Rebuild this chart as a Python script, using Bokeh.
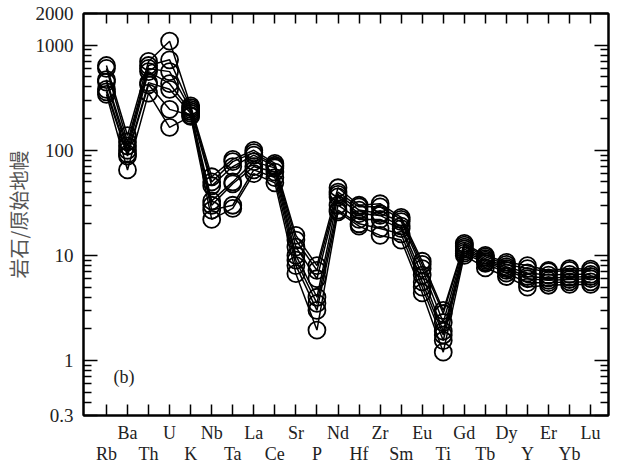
from bokeh.plotting import figure
from bokeh.models import (Range1d, LinearAxis, LogAxis, FixedTicker, Label,
                          ColumnDataSource, CustomLabelingPolicy)
from bokeh.embed import file_html
from bokeh.resources import INLINE

elements = ["Rb", "Ba", "Th", "U", "K", "Nb", "Ta", "La", "Ce", "Sr", "P", "Nd",
            "Hf", "Zr", "Sm", "Eu", "Ti", "Gd", "Tb", "Dy", "Y", "Er", "Yb", "Lu"]

s1 = [640, 138, 700, 1090, 265, 56, 82, 100, 75, 15.5, 8.0, 44, 30, 31, 23, 8.8, 3.0, 13.0, 10.0, 8.6, 8.0, 7.2, 7.5, 7.4]
s2 = [600, 120, 640, 725, 255, 50, 78, 95, 72, 14.0, 7.2, 40, 29, 29, 22, 8.2, 2.8, 12.5, 9.7, 8.2, 7.5, 7.0, 7.2, 7.1]
s3 = [470, 110, 600, 560, 245, 46, 70, 90, 70, 12.0, 6.0, 38, 27, 25, 21, 7.5, 2.3, 12.0, 9.3, 7.8, 6.8, 6.5, 6.6, 6.6]
s4 = [445, 100, 560, 430, 235, 33, 50, 78, 68, 10.0, 4.0, 36, 25, 24, 19, 6.5, 1.9, 11.5, 9.0, 7.5, 6.3, 6.1, 6.2, 6.3]
s5 = [380, 92, 440, 380, 225, 30, 48, 70, 62, 9.0, 3.5, 30, 22, 22, 18, 5.6, 1.75, 11.0, 8.7, 7.2, 6.0, 5.8, 5.9, 6.0]
s6 = [360, 88, 420, 245, 215, 27, 30, 65, 55, 8.0, 3.0, 27, 20, 18, 16, 5.0, 1.55, 10.5, 8.4, 6.8, 5.5, 5.5, 5.6, 5.6]
s7 = [340, 65, 350, 165, 210, 22, 28, 60, 49, 6.7, 1.95, 26, 19, 15.5, 14, 4.4, 1.2, 10.0, 7.6, 6.3, 5.0, 5.2, 5.3, 5.3]
series = [s1, s2, s3, s4, s5, s6, s7]

y_ticks = [0.3, 1, 10, 100, 1000, 2000]
y_tick_labels = ["0.3", "1", "10", "100", "1000", "2000"]
y_minor = [0.4, 0.5, 0.6, 0.7, 0.8, 0.9, 2, 3, 4, 5, 6, 7, 8, 9,
           20, 30, 40, 50, 60, 70, 80, 90, 200, 300, 400, 500, 600, 700, 800, 900]

xs = list(range(len(elements)))
X0, X1 = -1.09, 23.85
Y0, Y1 = 0.3, 2000

p = figure(width=613, height=466, output_backend="svg", toolbar_location=None,
           x_range=Range1d(X0, X1), y_range=Range1d(Y0, Y1),
           y_axis_type="log", x_axis_type=None, y_axis_location=None,
           min_border_left=75, min_border_right=0, min_border_top=13,
           min_border_bottom=0)
p.grid.visible = False
p.outline_line_color = "black"
p.outline_line_width = 2
p.background_fill_color = "white"
p.border_fill_color = "white"

for s in series:
    src = ColumnDataSource(dict(x=xs, y=s))
    p.scatter("x", "y", source=src, size=17, marker="circle",
              fill_color=None, line_color="black", line_width=1.8)
    p.line("x", "y", source=src, line_color="black", line_width=1.5)

font = "Liberation Serif"

# left axis
la = LogAxis(ticker=FixedTicker(ticks=y_ticks, minor_ticks=y_minor))
la.major_label_overrides = {t: l for t, l in zip(y_ticks, y_tick_labels)}
la.major_tick_in = 14
la.major_tick_out = 0
la.minor_tick_in = 8
la.minor_tick_out = 0
la.major_tick_line_width = 1.5
la.minor_tick_line_width = 1.5
la.axis_line_width = 2
la.major_label_text_font = font
la.major_label_text_font_size = "19px"
la.major_label_text_color = "#222222"
la.major_label_standoff = 10
la.axis_label = "岩石/原始地幔"
la.axis_label_text_font = "Noto Sans CJK SC"
la.axis_label_text_font_size = "20px"
la.axis_label_text_font_style = "normal"
la.axis_label_text_color = "#555555"
la.axis_label_standoff = 0
p.add_layout(la, "left")

# right axis (ticks only)
ra = LogAxis(ticker=FixedTicker(ticks=y_ticks, minor_ticks=y_minor))
ra.major_label_policy = CustomLabelingPolicy(code="""
for (const i of indices)
  indices.unset(i)
""")
ra.major_label_text_font_size = "1px"
ra.major_label_standoff = 0
ra.major_tick_in = 14
ra.major_tick_out = 0
ra.minor_tick_in = 8
ra.minor_tick_out = 0
ra.major_tick_line_width = 1.5
ra.minor_tick_line_width = 1.5
ra.axis_line_width = 2
p.add_layout(ra, "right")

# top axis (ticks only)
ta = LinearAxis(ticker=FixedTicker(ticks=xs, minor_ticks=[]))
ta.major_label_policy = CustomLabelingPolicy(code="""
for (const i of indices)
  indices.unset(i)
""")
ta.major_label_text_font_size = "1px"
ta.major_label_standoff = 0
ta.major_tick_in = 10
ta.major_tick_out = 0
ta.major_tick_line_width = 1.5
ta.axis_line_width = 2
p.add_layout(ta, "above")

# bottom axis: ticks at every element, upper row of labels (odd positions)
ba1 = LinearAxis(ticker=FixedTicker(ticks=xs, minor_ticks=[]))
ba1.major_label_overrides = {i: elements[i] for i in xs}
ba1.major_label_policy = CustomLabelingPolicy(code="""
for (const i of indices)
  if (i % 2 == 1)
    yield i
""")
ba1.major_tick_in = 11
ba1.major_tick_out = 0
ba1.major_tick_line_width = 1.5
ba1.axis_line_width = 2
ba1.major_label_text_font = font
ba1.major_label_text_font_size = "18px"
ba1.major_label_text_color = "#222222"
ba1.major_label_standoff = 7
p.add_layout(ba1, "below")

# bottom axis: lower row of labels (even positions)
ba2 = LinearAxis(ticker=FixedTicker(ticks=[i for i in xs if i % 2 == 0], minor_ticks=[]))
ba2.major_label_overrides = {i: elements[i] for i in xs if i % 2 == 0}
ba2.major_tick_in = 0
ba2.major_tick_out = 0
ba2.axis_line_color = None
ba2.major_tick_line_color = None
ba2.major_label_text_font = font
ba2.major_label_text_font_size = "18px"
ba2.major_label_text_color = "#222222"
ba2.major_label_standoff = -2
p.add_layout(ba2, "below")

p.add_layout(Label(x=0.33, y=0.70, text="(b)", text_font=font,
                   text_font_size="18px", text_color="#222222",
                   text_baseline="middle", text_align="left"))

open("out.html", "w").write(file_html(p, INLINE))
